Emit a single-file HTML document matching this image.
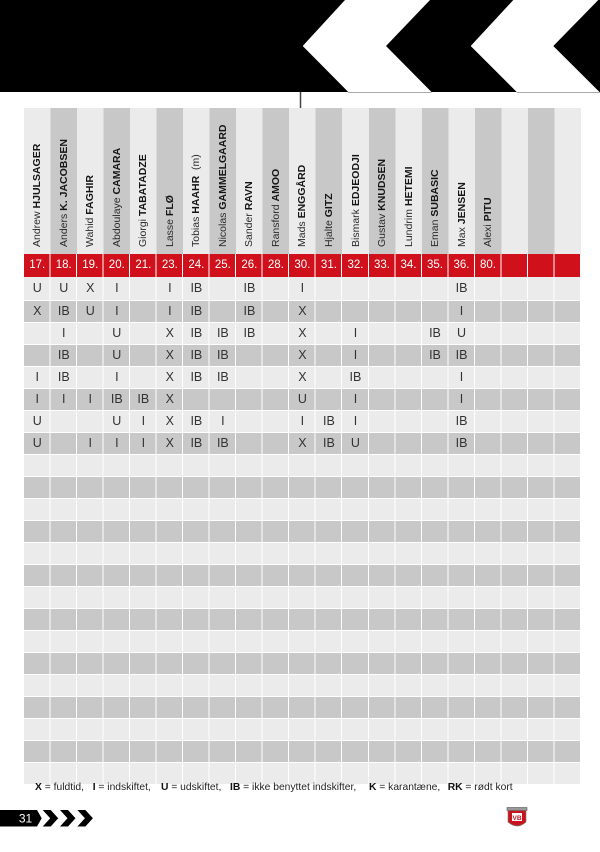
<!DOCTYPE html>
<html><head><meta charset="utf-8"><style>
*{margin:0;padding:0;box-sizing:border-box}
html,body{width:600px;height:852px;background:#fff;overflow:hidden}
body{position:relative;font-family:"Liberation Sans",sans-serif}
.hdr{position:absolute;left:24px;top:108px;width:557px;height:146px;background:repeating-linear-gradient(to right,#ebebeb 0,#ebebeb 26.52px,#c8c8c8 26.52px,#c8c8c8 53.04px)}
.nm{position:absolute;top:247px;height:12px;line-height:12px;font-size:10.5px;color:#2a2a2a;white-space:nowrap;transform-origin:0 0;transform:rotate(-90deg)}
.nm b{font-weight:bold;color:#151515}
.red{position:absolute;left:24px;top:254px;width:557px;height:23px;background:#d0111c;display:grid;grid-template-columns:repeat(21,26.52px);color:#fff;font-size:11.5px;line-height:23px;text-align:center}
.rows{position:absolute;left:24px;top:277px;width:557px}
.r{display:grid;grid-template-columns:repeat(21,26.52px);height:21px;line-height:21px;margin-top:1px;background:#ebebeb;font-size:12.5px;color:#333;text-align:center}
.r.d{background:#c8c8c8}
.r.f{height:23px;line-height:23px;margin-top:0}
.vl{position:absolute;left:24px;top:254px;width:557px;height:530px;background:repeating-linear-gradient(to right,transparent 0,transparent 25.52px,#fff 25.52px,#fff 26.52px)}
.lg{position:absolute;top:782px;font-size:10.3px;line-height:12px;color:#222;white-space:nowrap}
.lg b{color:#111}
</style></head><body>

<svg style="position:absolute;left:0;top:0" width="600" height="110">
<rect x="0" y="0" width="600" height="92" fill="#000"/>
<polygon points="302.7,46 345,0 430,0 386,46 431.5,92 348.3,92" fill="#fff"/>
<polygon points="470.7,46 513.3,0 598.3,0 553.3,46 599.5,92 516.7,92" fill="#fff"/>
<line x1="348" y1="92.5" x2="431.5" y2="92.5" stroke="#aaa" stroke-width="1"/>
<line x1="516.7" y1="92.5" x2="600" y2="92.5" stroke="#aaa" stroke-width="1"/>
<line x1="300.5" y1="92" x2="300.5" y2="108" stroke="#444" stroke-width="1.5"/>
</svg>

<div class="hdr"></div>
<div class="nm" style="left:31.26px">Andrew <b>HJULSAGER</b></div>
<div class="nm" style="left:57.78px">Anders <b>K. JACOBSEN</b></div>
<div class="nm" style="left:84.3px">Wahid <b>FAGHIR</b></div>
<div class="nm" style="left:110.82px">Abdoulaye <b>CAMARA</b></div>
<div class="nm" style="left:137.34px">Giorgi <b>TABATADZE</b></div>
<div class="nm" style="left:163.86px">Lasse <b>FLØ</b></div>
<div class="nm" style="left:190.38px">Tobias <b>HAAHR</b>&nbsp;&nbsp;(m)</div>
<div class="nm" style="left:216.9px">Nicolas <b>GAMMELGAARD</b></div>
<div class="nm" style="left:243.42px">Sander <b>RAVN</b></div>
<div class="nm" style="left:269.94px">Ransford <b>AMOO</b></div>
<div class="nm" style="left:296.46px">Mads <b>ENGGÅRD</b></div>
<div class="nm" style="left:322.98px">Hjalte <b>GITZ</b></div>
<div class="nm" style="left:349.5px">Bismark <b>EDJEODJI</b></div>
<div class="nm" style="left:376.02px">Gustav <b>KNUDSEN</b></div>
<div class="nm" style="left:402.54px">Lundrim <b>HETEMI</b></div>
<div class="nm" style="left:429.06px">Eman <b>SUBASIC</b></div>
<div class="nm" style="left:455.58px">Max <b>JENSEN</b></div>
<div class="nm" style="left:482.1px">Alexi <b>PITU</b></div>

<div class="red"><span>17.</span><span>18.</span><span>19.</span><span>20.</span><span>21.</span><span>23.</span><span>24.</span><span>25.</span><span>26.</span><span>28.</span><span>30.</span><span>31.</span><span>32.</span><span>33.</span><span>34.</span><span>35.</span><span>36.</span><span>80.</span><span></span><span></span><span></span></div>

<div class="rows">
<div class="r f"><span>U</span><span>U</span><span>X</span><span>I</span><span></span><span>I</span><span>IB</span><span></span><span>IB</span><span></span><span>I</span><span></span><span></span><span></span><span></span><span></span><span>IB</span><span></span><span></span><span></span><span></span></div>
<div class="r d"><span>X</span><span>IB</span><span>U</span><span>I</span><span></span><span>I</span><span>IB</span><span></span><span>IB</span><span></span><span>X</span><span></span><span></span><span></span><span></span><span></span><span>I</span><span></span><span></span><span></span><span></span></div>
<div class="r"><span></span><span>I</span><span></span><span>U</span><span></span><span>X</span><span>IB</span><span>IB</span><span>IB</span><span></span><span>X</span><span></span><span>I</span><span></span><span></span><span>IB</span><span>U</span><span></span><span></span><span></span><span></span></div>
<div class="r d"><span></span><span>IB</span><span></span><span>U</span><span></span><span>X</span><span>IB</span><span>IB</span><span></span><span></span><span>X</span><span></span><span>I</span><span></span><span></span><span>IB</span><span>IB</span><span></span><span></span><span></span><span></span></div>
<div class="r"><span>I</span><span>IB</span><span></span><span>I</span><span></span><span>X</span><span>IB</span><span>IB</span><span></span><span></span><span>X</span><span></span><span>IB</span><span></span><span></span><span></span><span>I</span><span></span><span></span><span></span><span></span></div>
<div class="r d"><span>I</span><span>I</span><span>I</span><span>IB</span><span>IB</span><span>X</span><span></span><span></span><span></span><span></span><span>U</span><span></span><span>I</span><span></span><span></span><span></span><span>I</span><span></span><span></span><span></span><span></span></div>
<div class="r"><span>U</span><span></span><span></span><span>U</span><span>I</span><span>X</span><span>IB</span><span>I</span><span></span><span></span><span>I</span><span>IB</span><span>I</span><span></span><span></span><span></span><span>IB</span><span></span><span></span><span></span><span></span></div>
<div class="r d"><span>U</span><span></span><span>I</span><span>I</span><span>I</span><span>X</span><span>IB</span><span>IB</span><span></span><span></span><span>X</span><span>IB</span><span>U</span><span></span><span></span><span></span><span>IB</span><span></span><span></span><span></span><span></span></div>
<div class="r"></div>
<div class="r d"></div>
<div class="r"></div>
<div class="r d"></div>
<div class="r"></div>
<div class="r d"></div>
<div class="r"></div>
<div class="r d"></div>
<div class="r"></div>
<div class="r d"></div>
<div class="r"></div>
<div class="r d"></div>
<div class="r"></div>
<div class="r d"></div>
<div class="r"></div>
</div>
<div class="vl"></div>

<div class="lg" style="left:35px"><b>X</b> = fuldtid,</div>
<div class="lg" style="left:92.7px"><b>I</b> = indskiftet,</div>
<div class="lg" style="left:161px"><b>U</b> = udskiftet,</div>
<div class="lg" style="left:230px"><b>IB</b> = ikke benyttet indskifter,</div>
<div class="lg" style="left:369px"><b>K</b> = karantæne,</div>
<div class="lg" style="left:447.7px"><b>RK</b> = rødt kort</div>

<svg style="position:absolute;left:0;top:800px" width="100" height="35">
<polygon points="0,10 37,10 41.7,18.2 37,26.5 0,26.5" fill="#000"/>
<polygon points="42.7,10 50.7,10 58.2,18.2 50.7,26.5 42.7,26.5 50.2,18.2" fill="#000"/>
<polygon points="60,10 68,10 75.5,18.2 68,26.5 60,26.5 67.5,18.2" fill="#000"/>
<polygon points="77.4,10 85.4,10 92.9,18.2 85.4,26.5 77.4,26.5 84.9,18.2" fill="#000"/>
<text x="25.5" y="22.6" fill="#fff" font-family="Liberation Sans, sans-serif" font-size="12" text-anchor="middle">31</text>
</svg>

<svg style="position:absolute;left:504px;top:805px" width="26" height="26">
<rect x="3" y="2.5" width="20" height="3" fill="#9a9a9a" stroke="#555" stroke-width="0.6"/>
<path d="M4,5.5 L22,5.5 L22,17 Q13,25 4,17 Z" fill="#c8141e" stroke="#777" stroke-width="0.6"/>
<rect x="8" y="8" width="10" height="8" fill="#fff"/>
<text x="13" y="14.8" fill="#c8141e" font-family="Liberation Sans, sans-serif" font-size="6.5" font-weight="bold" text-anchor="middle">VB</text>
</svg>

</body></html>
